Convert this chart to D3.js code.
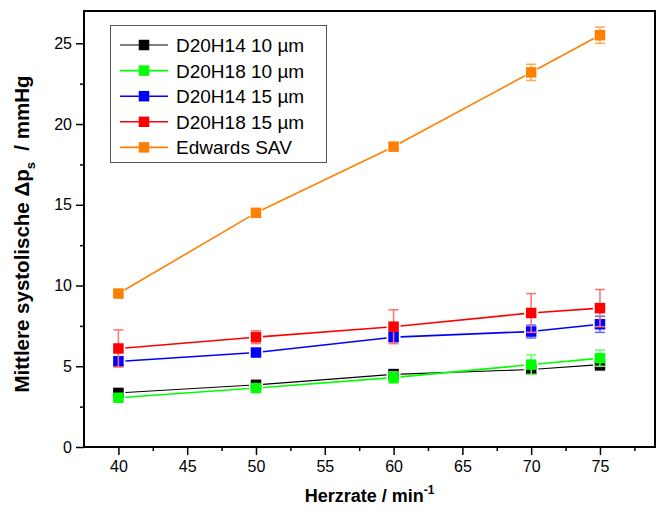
<!DOCTYPE html>
<html><head><meta charset="utf-8">
<script src="https://cdn.jsdelivr.net/npm/d3@7"></script>
<style>html,body{margin:0;padding:0;background:#fff;}svg{display:block;font-family:"Liberation Sans",Arial,sans-serif;}</style>
</head><body>
<script>
const heartRates = [40, 50, 60, 70, 75];
const seriesNames = ["D20H14 10 µm", "D20H18 10 µm", "D20H14 15 µm", "D20H18 15 µm", "Edwards SAV"];
const seriesColors = ["#000000", "#00ff00", "#0000ff", "#ff0000", "#ff8000"];
const errColors = ["#555555", "#66ff66", "#6666ff", "#ff7070", "#ffaa55"];
const d20h14_10 = [3.35, 3.85, 4.5, 4.8, 5.1];
const d20h18_10 = [3.05, 3.65, 4.3, 5.1, 5.5];
const d20h14_15 = [5.3, 5.85, 6.8, 7.15, 7.6];
const d20h18_15 = [6.1, 6.8, 7.45, 8.3, 8.6];
const edwards = [9.5, 14.5, 18.6, 23.2, 25.5];
const err_d20h14_10 = [0.1, 0.15, 0.3, 0.2, 0.35];
const err_d20h18_10 = [0.1, 0.2, 0.35, 0.6, 0.5];
const err_d20h14_15 = [0.3, 0.2, 0.2, 0.4, 0.5];
const err_d20h18_15 = [1.15, 0.4, 1.05, 1.2, 1.15];
const err_edwards = [0.15, 0.15, 0.2, 0.5, 0.5];
const xTicks = [40, 45, 50, 55, 60, 65, 70, 75];
const yTicks = [0, 5, 10, 15, 20, 25];

const values = [d20h14_10, d20h18_10, d20h14_15, d20h18_15, edwards];
const errors = [err_d20h14_10, err_d20h18_10, err_d20h14_15, err_d20h18_15, err_edwards];

const W = 663, H = 517;
const m = {left: 84, right: 8, top: 11, bottom: 70};
const svg = d3.select("body").append("svg").attr("width", W).attr("height", H);
const x = d3.scaleLinear().domain([37.5, 79]).range([m.left, W - m.right]);
const y = d3.scaleLinear().domain([0, 27]).range([H - m.bottom, m.top]);

// axes
const xAxis = d3.axisBottom(x).tickValues(xTicks).tickSize(8).tickPadding(6).tickFormat(d3.format("d"));
const xMinor = d3.axisBottom(x).tickValues(d3.range(42.5, 79, 5)).tickSize(4).tickFormat("");
const yAxis = d3.axisLeft(y).tickValues(yTicks).tickSize(8).tickPadding(4).tickFormat(d3.format("d"));
const yMinor = d3.axisLeft(y).tickValues(d3.range(2.5, 27, 5)).tickSize(4).tickFormat("");
function styleAxis(g){
  g.select(".domain").remove();
  g.selectAll(".tick line").attr("stroke", "#000").attr("stroke-width", 1.5);
  g.selectAll(".tick text").attr("font-size", 16).attr("fill", "#000").attr("font-family", "Liberation Sans, Arial, sans-serif");
}
svg.append("g").attr("transform", `translate(0,${H - m.bottom})`).call(xAxis).call(styleAxis);
svg.append("g").attr("transform", `translate(0,${H - m.bottom})`).call(xMinor).call(styleAxis);
svg.append("g").attr("transform", `translate(${m.left},0)`).call(yAxis).call(styleAxis);
svg.append("g").attr("transform", `translate(${m.left},0)`).call(yMinor).call(styleAxis);

// frame
svg.append("rect").attr("x", m.left).attr("y", m.top).attr("width", W - m.right - m.left).attr("height", H - m.bottom - m.top)
  .attr("fill", "none").attr("stroke", "#000").attr("stroke-width", 2);

// series
const sq = 10.5, gap = 7;
values.forEach((vals, si) => {
  const g = svg.append("g");
  const col = seriesColors[si];
  const ec = errColors[si];
  vals.forEach((d, i) => {
    const e = errors[si][i], cx = x(heartRates[i]);
    g.append("line").attr("x1", cx).attr("x2", cx).attr("y1", y(d + e)).attr("y2", y(d - e)).attr("stroke", ec).attr("stroke-width", 1.5);
    [d + e, d - e].forEach(v => g.append("line").attr("x1", cx - 5).attr("x2", cx + 5).attr("y1", y(v)).attr("y2", y(v)).attr("stroke", ec).attr("stroke-width", 1.5));
  });
  for (let i = 0; i < vals.length - 1; i++) {
    const x1 = x(heartRates[i]), y1 = y(vals[i]), x2 = x(heartRates[i+1]), y2 = y(vals[i+1]);
    const len = Math.hypot(x2 - x1, y2 - y1), ux = (x2 - x1) / len, uy = (y2 - y1) / len;
    g.append("line").attr("x1", x1 + ux*gap).attr("y1", y1 + uy*gap).attr("x2", x2 - ux*gap).attr("y2", y2 - uy*gap)
      .attr("stroke", col).attr("stroke-width", si === 0 ? 1.2 : 1.6);
  }
  g.selectAll("rect.pt").data(vals).enter().append("rect")
    .attr("x", (d, i) => x(heartRates[i]) - sq/2).attr("y", d => y(d) - sq/2)
    .attr("width", sq).attr("height", sq).attr("fill", col);
});

// legend
const lg = svg.append("g");
lg.append("rect").attr("x", 110.5).attr("y", 25.5).attr("width", 216).attr("height", 137).attr("fill", "#fff").attr("stroke", "#555").attr("stroke-width", 1);
seriesNames.forEach((n, i) => {
  const cy = 45 + i * 25.6;
  lg.append("line").attr("x1", 120).attr("x2", 168).attr("y1", cy).attr("y2", cy).attr("stroke", seriesColors[i]).attr("stroke-width", i === 0 ? 1.2 : 1.6);
  lg.append("rect").attr("x", 144 - sq/2).attr("y", cy - sq/2).attr("width", sq).attr("height", sq).attr("fill", seriesColors[i]);
  lg.append("text").attr("x", 176).attr("y", cy + 7).attr("font-size", 19).attr("fill", "#000").text(n);
});

// axis titles
const xt = svg.append("text").attr("x", (m.left + W - m.right) / 2).attr("y", 502).attr("text-anchor", "middle")
  .attr("font-size", 18).attr("font-weight", "bold").attr("fill", "#000");
xt.append("tspan").text("Herzrate / min");
xt.append("tspan").attr("dy", -8).attr("font-size", 12).text("-1");

const yt = svg.append("text").attr("transform", `translate(29,234) rotate(-90)`).attr("text-anchor", "middle")
  .attr("font-size", 20.5).attr("font-weight", "bold").attr("fill", "#000");
yt.append("tspan").text("Mittlere systolische Δp");
yt.append("tspan").attr("dy", 6).attr("font-size", 13).text("s");
yt.append("tspan").attr("dy", -6).text("\u00a0 / mmHg");
</script>
</body></html>
